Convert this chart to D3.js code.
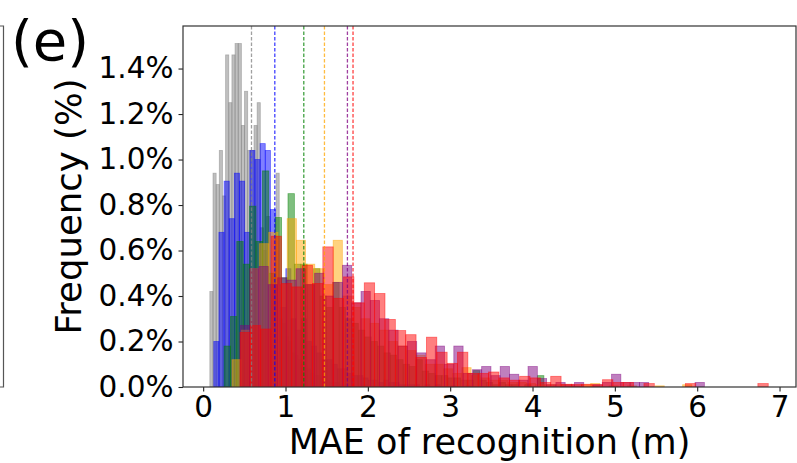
<!DOCTYPE html>
<html>
<head>
<meta charset="utf-8">
<script src="https://d3js.org/d3.v7.min.js"></script>
<style>
  body { margin: 0; background: #fff; }
  text { font-family: "DejaVu Sans", sans-serif; fill: #000; }
</style>
</head>
<body>
<div id="viz"></div>
<script>
// histogram heights (% of samples) per bin, bins start at *Start with width *Width (m)
const grayStart = 0.081, grayWidth = 0.0383;
const grayVals = [0.42, 0.94, 0.89, 1.04, 0.84, 1.46, 1.25, 1.46, 1.51, 1.51,
  1.15, 1.30, 1.04, 1.04, 1.15, 1.25, 0.70, 0.60, 0.75, 0.50,
  0.45, 0.94, 0.30, 0.28, 0.22, 0.20, 0.15, 0.14, 0.12, 0.10,
  0.08, 0.08, 0.06, 0.05, 0.05, 0.04, 0.03, 0.03, 0.02, 0.02,
  0.02, 0.01, 0.01, 0.01, 0.00, 0.01, 0.00, 0.00, 0.01, 0.01];

const blueStart = 0.129, blueWidth = 0.0625;
const blueVals = [0.20, 0.68, 0.905, 0.74, 0.94, 0.905, 0.68, 1.04, 1.00, 1.07,
  1.04, 0.78, 0.45, 0.35, 0.52, 0.30, 0.25, 0.30, 0.20, 0.18,
  0.15, 0.12, 0.12, 0.10, 0.08, 0.08, 0.06, 0.05, 0.05, 0.04,
  0.03, 0.03, 0.02, 0.03, 0.02, 0.02, 0.01, 0.01, 0.01, 0.01,
  0.00, 0.01, 0.00, 0.01, 0.00, 0.00, 0.005, 0.00, 0.00, 0.005];

const greenStart = 0.253, greenWidth = 0.0777;
const greenVals = [0.18, 0.31, 0.64, 0.54, 0.795, 0.64, 0.95, 0.50, 0.745, 0.48,
  0.85, 0.54, 0.54, 0.45, 0.52, 0.40, 0.35, 0.46, 0.35, 0.30,
  0.28, 0.25, 0.22, 0.20, 0.18, 0.15, 0.14, 0.12, 0.10, 0.09,
  0.12, 0.07, 0.06, 0.05, 0.05, 0.04, 0.04, 0.03, 0.03, 0.072,
  0.03, 0.02, 0.01, 0.02, 0.01, 0.01, 0.00, 0.01, 0.00, 0.05];

const orangeStart = 0.350, orangeWidth = 0.1117;
const orangeVals = [0.12, 0.25, 0.52, 0.63, 0.68, 0.45, 0.74, 0.645, 0.54, 0.52,
  0.45, 0.645, 0.40, 0.35, 0.30, 0.28, 0.25, 0.20, 0.18, 0.16,
  0.14, 0.10, 0.10, 0.08, 0.06, 0.085, 0.05, 0.04, 0.03, 0.03,
  0.02, 0.02, 0.015, 0.01, 0.01, 0.01, 0.01, 0.005, 0.01, 0.015,
  0.00, 0.005, 0.00, 0.005, 0.00, 0.00, 0.005, 0.00, 0.00, 0.01];

const purpleStart = 0.452, purpleWidth = 0.1127;
const purpleVals = [0.27, 0.52, 0.53, 0.45, 0.48, 0.47, 0.52, 0.45, 0.50, 0.40,
  0.46, 0.535, 0.37, 0.42, 0.38, 0.30, 0.25, 0.18, 0.20, 0.15,
  0.12, 0.18, 0.10, 0.18, 0.06, 0.076, 0.09, 0.05, 0.09, 0.056,
  0.03, 0.09, 0.037, 0.01, 0.02, 0.01, 0.02, 0.00, 0.01, 0.02,
  0.056, 0.02, 0.02, 0.02, 0.00, 0.00, 0.00, 0.00, 0.00, 0.02];

const redStart = 0.447, redWidth = 0.1258;
const redVals = [0.24, 0.27, 0.255, 0.663, 0.455, 0.44, 0.535, 0.455, 0.616, 0.39,
  0.484, 0.37, 0.458, 0.411, 0.297, 0.248, 0.23, 0.13, 0.219, 0.153,
  0.104, 0.153, 0.06, 0.06, 0.066, 0.04, 0.03, 0.047, 0.04, 0.02,
  0.047, 0.012, 0.012, 0.012, 0.01, 0.032, 0.02, 0.02, 0.00, 0.015,
  0.00, 0.00, 0.00, 0.015, 0.00, 0.00, 0.00, 0.00, 0.00, 0.00, 0.015];

// mean MAE of each series (dashed lines)
const seriesNames = ['gray', 'blue', 'green', 'orange', 'purple', 'red'];
const meanVals = [0.587, 0.87, 1.222, 1.473, 1.752, 1.82];

const xTicks = [0, 1, 2, 3, 4, 5, 6, 7];
const yTicks = [0, 0.2, 0.4, 0.6, 0.8, 1.0, 1.2, 1.4];

const series = [
  {color: 'gray',    start: grayStart,   w: grayWidth,   vals: grayVals},
  {color: 'blue',    start: blueStart,   w: blueWidth,   vals: blueVals},
  {color: 'green',   start: greenStart,  w: greenWidth,  vals: greenVals},
  {color: 'orange',  start: orangeStart, w: orangeWidth, vals: orangeVals},
  {color: 'purple',  start: purpleStart, w: purpleWidth, vals: purpleVals},
  {color: 'red',     start: redStart,    w: redWidth,    vals: redVals}
];

let width = 797, height = 463;
let mLeft = 183, mRight = 796, mTop = 26, mBottom = 387;

let svg = d3.select('#viz').append('svg')
  .attr('width', width)
  .attr('height', height);

let x = d3.scaleLinear().domain([-0.245, 7.2]).range([mLeft, mRight]);
let y = d3.scaleLinear().domain([0, 1.587]).range([mBottom, mTop]);

svg.append('clipPath').attr('id', 'plot')
  .append('rect')
  .attr('x', mLeft).attr('y', mTop)
  .attr('width', mRight - mLeft).attr('height', mBottom - mTop);

let plot = svg.append('g').attr('clip-path', 'url(#plot)');

series.forEach(s => {
  let bins = s.vals.map((v, i) => ({x0: s.start + i * s.w, x1: s.start + (i + 1) * s.w, v: v}))
    .filter(d => d.v > 0);
  plot.append('g').selectAll('rect')
    .data(bins)
    .enter()
    .append('rect')
    .attr('x', d => x(d.x0))
    .attr('width', d => x(d.x1) - x(d.x0))
    .attr('y', d => y(d.v))
    .attr('height', d => y(0) - y(d.v))
    .attr('fill', s.color)
    .attr('fill-opacity', 0.5)
    .attr('stroke', s.color)
    .attr('stroke-opacity', 0.5)
    .attr('stroke-width', 0.8);
});

// mean lines
plot.append('g').selectAll('line')
  .data(meanVals)
  .enter()
  .append('line')
  .attr('x1', d => x(d)).attr('x2', d => x(d))
  .attr('y1', mTop).attr('y2', mBottom)
  .attr('stroke', (d, i) => seriesNames[i])
  .attr('stroke-opacity', 0.75)
  .attr('stroke-width', 1.3)
  .attr('stroke-dasharray', '3.5,2');

// axes
let xAxis = svg.append('g')
  .attr('transform', `translate(0,${mBottom})`)
  .call(d3.axisBottom(x).tickValues(xTicks).tickFormat(d3.format('d')).tickSize(4.5).tickPadding(5));

let yAxis = svg.append('g')
  .attr('transform', `translate(${mLeft},0)`)
  .call(d3.axisLeft(y).tickValues(yTicks).tickFormat(d => d.toFixed(1) + '%').tickSize(4.5).tickPadding(5));

[xAxis, yAxis].forEach(a => {
  a.select('.domain').remove();
  a.selectAll('.tick line').attr('stroke', '#222').attr('stroke-width', 1.1);
  a.selectAll('.tick text').style('font-size', '29.5px').attr('fill', '#000');
});

// spines
svg.append('rect')
  .attr('x', mLeft).attr('y', mTop)
  .attr('width', mRight - mLeft).attr('height', mBottom - mTop)
  .attr('fill', 'none')
  .attr('stroke', '#333')
  .attr('stroke-width', 1.2);

// neighbouring panel edge
svg.append('path')
  .attr('d', `M0,${mTop}H3.5V${mBottom}H0`)
  .attr('fill', 'none')
  .attr('stroke', '#555')
  .attr('stroke-width', 1.2);

svg.append('text')
  .attr('x', (mLeft + mRight) / 2)
  .attr('y', 454)
  .attr('text-anchor', 'middle')
  .style('font-size', '35px')
  .text('MAE of recognition (m)');

svg.append('text')
  .attr('transform', `translate(81,${(mTop + mBottom) / 2}) rotate(-90)`)
  .attr('text-anchor', 'middle')
  .style('font-size', '35.5px')
  .text('Frequency (%)');

svg.append('text')
  .attr('x', 11)
  .attr('y', 60)
  .style('font-size', '56px')
  .attr('fill', '#222')
  .text('(e)');
</script>
</body>
</html>
